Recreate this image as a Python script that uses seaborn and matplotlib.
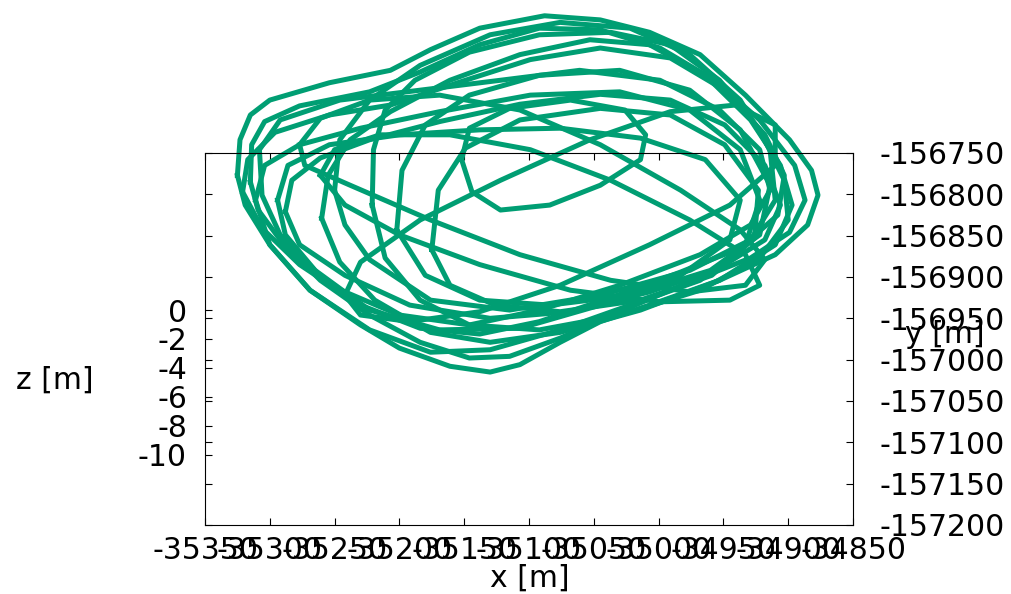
import pandas as pd
import seaborn as sns
import matplotlib.pyplot as plt

plt.rcParams["font.family"] = ["DejaVu Sans"]
plt.rcParams["axes.unicode_minus"] = False

# orbit loops (x [m], y [m])
loop1_x = [-35325, -35323, -35315, -35300, -35254, -35207, -35176, -35138, -35088, -35045, -35007, -34968, -34933,
           -34899, -34882, -34877, -34885, -34910, -34953, -35007, -35045, -35076, -35107, -35130, -35161, -35200,
           -35230, -35269, -35300, -35319, -35325]
loop1_y = [-156777, -156734, -156704, -156686, -156665, -156650, -156625, -156599, -156584, -156589, -156604, -156631,
           -156680, -156734, -156771, -156801, -156837, -156873, -156904, -156934, -156954, -156979, -157006, -157015,
           -157008, -156986, -156958, -156916, -156861, -156813, -156777]

loop2_x = [-35315, -35314, -35304, -35277, -35223, -35184, -35138, -35092, -35045, -34999, -34957, -34922, -34895,
           -34887, -34899, -34929, -34976, -35030, -35076, -35115, -35146, -35184, -35223, -35261, -35292, -35309,
           -35315]
loop2_y = [-156785, -156740, -156712, -156693, -156676, -156652, -156619, -156599, -156601, -156623, -156662, -156710,
           -156765, -156807, -156846, -156877, -156906, -156942, -156974, -156996, -156998, -156979, -156946, -156904,
           -156855, -156819, -156785]

loop3_x = [-35321, -35317, -35296, -35254, -35207, -35153, -35099, -35045, -34991, -34949, -34918, -34903, -34908,
           -34937, -34983, -35037, -35092, -35138, -35184, -35230, -35277, -35306, -35321]
loop3_y = [-156797, -156758, -156725, -156704, -156692, -156664, -156637, -156623, -156635, -156674, -156728, -156777,
           -156825, -156865, -156894, -156925, -156954, -156969, -156962, -156934, -156885, -156841, -156797]

loop4_x = [-35288, -35283, -35261, -35223, -35169, -35107, -35045, -34991, -34949, -34918, -34906, -34918, -34953,
           -35007, -35068, -35130, -35192, -35242, -35277, -35288]
loop4_y = [-156821, -156783, -156756, -156734, -156712, -156691, -156679, -156686, -156716, -156765, -156813, -156855,
           -156889, -156918, -156942, -156950, -156934, -156898, -156861, -156821]

loop5_x = [-35260, -35255, -35238, -35207, -35161, -35107, -35053, -35007, -34964, -34929, -34906, -34897, -34910,
           -34953, -35014, -35076, -35130, -35176, -35219, -35246, -35260]
loop5_y = [-156829, -156777, -156734, -156700, -156662, -156631, -156613, -156619, -156656, -156710, -156765, -156813,
           -156861, -156904, -156940, -156967, -156979, -156967, -156928, -156882, -156829]

loop6_x = [-35221, -35220, -35211, -35188, -35146, -35092, -35037, -34991, -34953, -34922, -34903, -34900, -34922,
           -34968, -35030, -35092, -35146, -35184, -35211, -35221]
loop6_y = [-156813, -156746, -156698, -156662, -156628, -156607, -156604, -156619, -156662, -156722, -156783, -156831,
           -156877, -156916, -156946, -156964, -156958, -156928, -156877, -156813]

loop7_x = [-35202, -35198, -35180, -35146, -35092, -35030, -34976, -34937, -34914, -34922, -34960, -35022, -35084,
           -35138, -35180, -35202]
loop7_y = [-156843, -156771, -156716, -156680, -156656, -156650, -156674, -156722, -156789, -156849, -156892, -156922,
           -156934, -156928, -156898, -156843]

loop8_x = [-35175, -35170, -35149, -35107, -35045, -34991, -34949, -34923, -34926, -34959, -35014, -35076, -35126,
           -35161, -35175]
loop8_y = [-156867, -156795, -156744, -156710, -156696, -156704, -156740, -156795, -156853, -156898, -156928, -156942,
           -156934, -156910, -156867]

loop9_x = [-35277, -35261, -35223, -35169, -35107, -35045, -34983, -34937, -34918, -34933, -34976, -35037, -35107,
           -35176, -35238, -35273, -35277]
loop9_y = [-156740, -156708, -156686, -156680, -156698, -156740, -156795, -156843, -156879, -156910, -156918, -156904,
           -156873, -156831, -156789, -156765, -156740]

loop10_x = [-35242, -35230, -35184, -35122, -35053, -34991, -34941, -34910, -34910, -34945, -35007, -35076, -35138,
            -35192, -35230, -35242]
loop10_y = [-156922, -156882, -156831, -156783, -156734, -156700, -156692, -156716, -156765, -156813, -156861, -156910,
            -156942, -156954, -156946, -156922]

loop11_x = [-35152, -35146, -35115, -35068, -35026, -35010, -35014, -35045, -35084, -35122, -35144, -35152]
loop11_y = [-156758, -156720, -156696, -156686, -156698, -156728, -156758, -156789, -156813, -156819, -156797, -156758]

loop12_x = [-35294, -35286, -35254, -35200, -35138, -35076, -35014, -34964, -34937, -34945, -34983, -35045, -35107,
            -35169, -35223, -35265, -35288, -35294]
loop12_y = [-156807, -156765, -156740, -156728, -156722, -156720, -156732, -156758, -156807, -156855, -156898, -156934,
            -156962, -156964, -156940, -156892, -156849, -156807]

loop13_x = [-35308, -35292, -35246, -35184, -35122, -35061, -34999, -34953, -34922, -34914, -34929, -34968, -35030,
            -35092, -35146, -35200, -35254, -35292, -35306, -35308]
loop13_y = [-156746, -156710, -156686, -156674, -156662, -156650, -156662, -156698, -156746, -156795, -156837, -156873,
            -156910, -156940, -156958, -156946, -156910, -156849, -156801, -156746]

loop14_x = [-35250, -35246, -35223, -35184, -35130, -35076, -35022, -34976, -34937, -34914, -34910, -34929, -34976,
            -35045, -35115, -35176, -35223, -35242, -35250]
loop14_y = [-156795, -156734, -156686, -156644, -156607, -156592, -156599, -156631, -156686, -156746, -156807, -156855,
            -156892, -156922, -156940, -156928, -156879, -156837, -156795]

loop15_x = [-35311, -35304, -35277, -35230, -35169, -35099, -35030, -34976, -34937, -34922, -34933, -34968, -35022,
            -35076, -35130, -35176, -35223, -35269, -35300, -35311]
loop15_y = [-156807, -156765, -156740, -156720, -156700, -156680, -156676, -156698, -156746, -156807, -156861, -156904,
            -156934, -156964, -156988, -156991, -156964, -156916, -156861, -156807]

loop16_x = [-35261, -35250, -35215, -35161, -35099, -35037, -34976, -34933, -34922, -34945, -34999, -35068, -35138,
            -35200, -35242, -35261]
loop16_y = [-156777, -156746, -156728, -156728, -156746, -156783, -156831, -156873, -156910, -156928, -156930, -156916,
            -156885, -156849, -156813, -156777]

x_ticks = [-35350, -35300, -35250, -35200, -35150, -35100, -35050, -35000, -34950, -34900, -34850]
y_ticks = [-157200, -157150, -157100, -157050, -157000, -156950, -156900, -156850, -156800, -156750]
z_ticks = [0, -2, -4, -6, -8, -10]

all_x = [loop1_x, loop2_x, loop3_x, loop4_x, loop5_x, loop6_x, loop7_x, loop8_x,
         loop9_x, loop10_x, loop11_x, loop12_x, loop13_x, loop14_x, loop15_x, loop16_x]
all_y = [loop1_y, loop2_y, loop3_y, loop4_y, loop5_y, loop6_y, loop7_y, loop8_y,
         loop9_y, loop10_y, loop11_y, loop12_y, loop13_y, loop14_y, loop15_y, loop16_y]
rows = []
for i, (xs, ys) in enumerate(zip(all_x, all_y)):
    for j, (xv, yv) in enumerate(zip(xs, ys)):
        rows.append({"loop": i, "step": j, "x": xv, "y": yv})
df = pd.DataFrame(rows)

fig = plt.figure(figsize=(10.12, 5.94), dpi=100)
ax = fig.add_axes([205 / 1012, 69 / 594, 648 / 1012, 372 / 594])

sns.lineplot(data=df, x="x", y="y", units="loop", estimator=None, sort=False,
             color="#009e73", linewidth=3.6, ax=ax)
for line in ax.lines:
    line.set_clip_on(False)
    line.set_solid_joinstyle("round")

# z axis drawn on the left side, like the gnuplot output
axz = ax.twinx()
axz.set_ylim(-14.83, 10.83)
axz.yaxis.tick_left()
axz.set_yticks(z_ticks)
axz.set_yticklabels([str(v) for v in z_ticks])
axz.tick_params(axis="y", direction="in", length=5, labelsize=21.5, pad=13)
for s in axz.spines.values():
    s.set_visible(False)
axz.yaxis.set_label_position("left")
axz.set_ylabel("z [m]", fontsize=21.5, rotation=0)
axz.yaxis.set_label_coords(-0.2315, 0.39)
axz.yaxis.label.set_va("center")
axz.yaxis.label.set_ha("center")

ax.set_xlim(-35350, -34850)
ax.set_ylim(-157200, -156750)
ax.set_xticks(x_ticks)
ax.set_xticklabels([str(v) for v in x_ticks])
ax.set_yticks(y_ticks)
ax.set_yticklabels([str(v) for v in y_ticks])
ax.tick_params(axis="x", direction="in", top=True, bottom=True, length=5, labelsize=21.5, pad=8)
ax.tick_params(axis="y", direction="in", left=True, right=True, labelleft=False, labelright=True,
               length=5, labelsize=21.5, pad=19)

ax.set_xlabel("x [m]", fontsize=21.5)
ax.xaxis.set_label_coords(0.5015, -0.1425)
ax.xaxis.label.set_va("center")
ax.yaxis.set_label_position("right")
ax.set_ylabel("y [m]", fontsize=21.5, rotation=0)
ax.yaxis.set_label_coords(1.142, 0.511)
ax.yaxis.label.set_va("center")
ax.yaxis.label.set_ha("center")

plt.savefig("out.png", dpi=100)
